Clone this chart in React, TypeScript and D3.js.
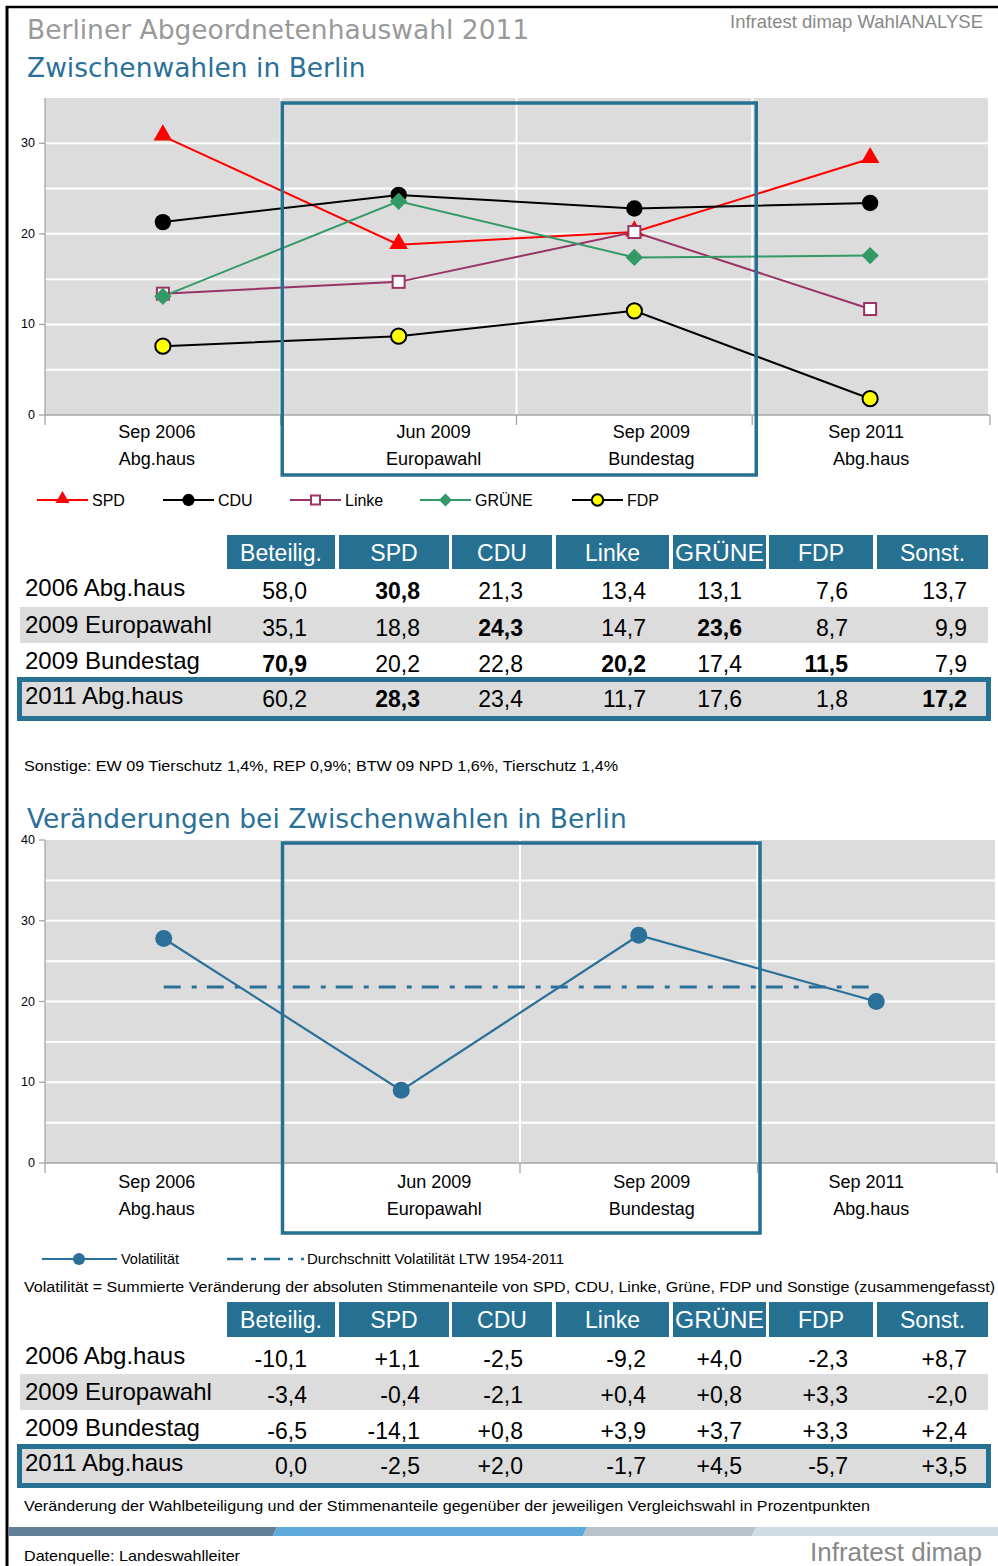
import React from "react";
import * as d3 from "d3";

// ---------- DATA ----------
const categories = ["Sep 2006", "Jun 2009", "Sep 2009", "Sep 2011"];
const categorySub = ["Abg.haus", "Europawahl", "Bundestag", "Abg.haus"];

const spd = [30.8, 18.8, 20.2, 28.3];
const cdu = [21.3, 24.3, 22.8, 23.4];
const linke = [13.4, 14.7, 20.2, 11.7];
const gruene = [13.1, 23.6, 17.4, 17.6];
const fdp = [7.6, 8.7, 11.5, 1.8];

const volatility = [27.8, 9.0, 28.2, 20.0];
const volatilityAverage = 21.8;

const yTicksTop = [0, 10, 20, 30];
const yTicksBottom = [0, 10, 20, 30, 40];

const tableColumns = ["Beteilig.", "SPD", "CDU", "Linke", "GRÜNE", "FDP", "Sonst."];
const rowLabels = ["2006 Abg.haus", "2009 Europawahl", "2009 Bundestag", "2011 Abg.haus"];

const results2006 = [58.0, 30.8, 21.3, 13.4, 13.1, 7.6, 13.7];
const results2009EU = [35.1, 18.8, 24.3, 14.7, 23.6, 8.7, 9.9];
const results2009BT = [70.9, 20.2, 22.8, 20.2, 17.4, 11.5, 7.9];
const results2011 = [60.2, 28.3, 23.4, 11.7, 17.6, 1.8, 17.2];
const boldCells = [[1], [2, 4], [0, 3, 5], [1, 6]];

const change2006 = [-10.1, 1.1, -2.5, -9.2, 4.0, -2.3, 8.7];
const change2009EU = [-3.4, -0.4, -2.1, 0.4, 0.8, 3.3, -2.0];
const change2009BT = [-6.5, -14.1, 0.8, 3.9, 3.7, 3.3, 2.4];
const change2011 = [0.0, -2.5, 2.0, -1.7, 4.5, -5.7, 3.5];

const noteOthers = "Sonstige: EW 09 Tierschutz 1,4%, REP 0,9%; BTW 09 NPD 1,6%, Tierschutz 1,4%";
const noteVolatility =
  "Volatilität = Summierte Veränderung der absoluten Stimmenanteile von SPD, CDU, Linke, Grüne, FDP und Sonstige (zusammengefasst)";
const noteChange =
  "Veränderung der Wahlbeteiligung und der Stimmenanteile gegenüber der jeweiligen Vergleichswahl in Prozentpunkten";

// ---------- STYLE ----------
const BLUE = "#267092";
const GREY_BG = "#dcdcdc";
const AXIS = "#a6a6a6";
const TITLE_FONT = "'DejaVu Sans', Verdana, sans-serif";
const FONT = "'Liberation Sans', Arial, sans-serif";

const locale = d3.formatLocale({ decimal: ",", thousands: ".", grouping: [3], currency: ["", "€"], minus: "-" });
const fmt = locale.format(".1f");
const fmtSigned = (v: number) => (v === 0 ? fmt(0) : locale.format("+.1f")(v));

const series = [
  { name: "SPD", values: spd, line: "#ff0000", shape: "triangle", fill: "#ff0000", stroke: "none" },
  { name: "CDU", values: cdu, line: "#000000", shape: "circle", fill: "#000000", stroke: "none" },
  { name: "Linke", values: linke, line: "#993366", shape: "square", fill: "#ffffff", stroke: "#993366" },
  { name: "GRÜNE", values: gruene, line: "#339966", shape: "diamond", fill: "#339966", stroke: "none" },
  { name: "FDP", values: fdp, line: "#000000", shape: "circle", fill: "#ffff00", stroke: "#000000" },
];

function Marker({ shape, x, y, fill, stroke, scale = 1 }: any) {
  if (shape === "circle") {
    return <circle cx={x} cy={y} r={(stroke === "none" ? 8.2 : 7.6) * scale} fill={fill} stroke={stroke} strokeWidth={2} />;
  }
  if (shape === "triangle") {
    const p = d3.symbol(d3.symbolTriangle, 150 * scale * scale)();
    return <path d={p!} transform={`translate(${x},${y - 1})`} fill={fill} />;
  }
  if (shape === "square") {
    const s = 12 * scale;
    return <rect x={x - s / 2} y={y - s / 2} width={s} height={s} fill={fill} stroke={stroke} strokeWidth={2} />;
  }
  const p = d3.symbol(d3.symbolSquare, 150 * scale * scale)();
  return <path d={p!} transform={`translate(${x},${y}) rotate(45)`} fill={fill} />;
}

function XAxisLabels({ x, baseY, offsets }: any) {
  return (
    <g fontFamily={FONT} fontSize={18} textAnchor="middle" fill="#000">
      {categories.map((c, i) => (
        <g key={c + i}>
          <text x={x(c)! + x.bandwidth() / 2 + offsets[i]} y={baseY}>{c}</text>
          <text x={x(c)! + x.bandwidth() / 2 + offsets[i] + (i === 3 ? 5 : 0)} y={baseY + 27}>{categorySub[i]}</text>
        </g>
      ))}
    </g>
  );
}

function ChartFrame({ x, y, ticks, gridStep, yMax }: any) {
  const [x0, x1] = x.range();
  const [y0, y1] = y.range();
  const grid = d3.range(gridStep, yMax, gridStep);
  const bounds = categories.slice(1).map((c) => x(c)!);
  return (
    <g>
      <rect x={x0} y={y1} width={x1 - x0} height={y0 - y1} fill={GREY_BG} />
      {grid.map((g: number) => (
        <line key={g} x1={x0} x2={x1} y1={y(g)} y2={y(g)} stroke="#fff" strokeWidth={2} />
      ))}
      {bounds.map((b: number) => (
        <line key={b} x1={b} x2={b} y1={y1} y2={y0} stroke="#fff" strokeWidth={2} />
      ))}
      <line x1={x0} x2={x0} y1={y1} y2={y0 + 10} stroke={AXIS} strokeWidth={1.3} />
      <line x1={x0} x2={x1 + 2} y1={y0} y2={y0} stroke={AXIS} strokeWidth={1.3} />
      {[...bounds, x1 + 2].map((b: number) => (
        <line key={"t" + b} x1={b} x2={b} y1={y0} y2={y0 + 10} stroke={AXIS} strokeWidth={1.3} />
      ))}
      {ticks.map((t: number) => (
        <g key={"yt" + t}>
          <line x1={x0 - 6} x2={x0} y1={y(t)} y2={y(t)} stroke={AXIS} strokeWidth={1.3} />
          <text x={x0 - 10} y={y(t) + 4} textAnchor="end" fontFamily={FONT} fontSize={12.5} fill="#000">
            {t}
          </text>
        </g>
      ))}
    </g>
  );
}

function Table({ top, rows, format, bold, headerH, rowTops }: any) {
  const headerBoxes = [
    [227, 335], [339, 449], [452, 552], [556, 669], [673, 766], [769, 873], [877, 988],
  ];
  const rightEdges = [307, 420, 523, 646, 742, 848, 967];
  return (
    <g fontFamily={FONT}>
      {headerBoxes.map(([a, b], i) => (
        <g key={"h" + i}>
          <rect x={a} y={top} width={b - a} height={headerH} fill={BLUE} />
          <text x={(a + b) / 2} y={top + 26} textAnchor="middle" fill="#fff" fontSize={23}
            textLength={i === 4 ? b - a - 4 : undefined} lengthAdjust="spacingAndGlyphs">
            {tableColumns[i]}
          </text>
        </g>
      ))}
      {rows.map((r: number[], ri: number) => {
        const rt = rowTops[ri];
        return (
          <g key={"r" + ri}>
            {ri === 1 && <rect x={20} y={rt} width={968} height={36} fill={GREY_BG} />}
            {ri === 3 && (
              <rect x={19.5} y={rt + 1.5} width={969} height={39} fill={GREY_BG} stroke={BLUE} strokeWidth={5} />
            )}
            <text x={25} y={rt + 25.5} fontSize={24} fill="#000">{rowLabels[ri]}</text>
            {r.map((v: number, ci: number) => (
              <text key={ci} x={rightEdges[ci]} y={rt + 28.5} textAnchor="end" fontSize={23}
                fontWeight={bold && bold[ri].includes(ci) ? "bold" : "normal"} fill="#000">
                {format(v)}
              </text>
            ))}
          </g>
        );
      })}
    </g>
  );
}

export default function App() {
  const x1 = d3.scaleBand<string>().domain(categories).range([45, 988]);
  const y1 = d3.scaleLinear().domain([0, 35]).range([415, 98]);
  const cx1 = (i: number) => x1(categories[i])! + x1.bandwidth() / 2;
  const line1 = (vals: number[]) =>
    d3.line<number>().x((_, i) => cx1(i)).y((d) => y1(d))(vals)!;

  const x2 = d3.scaleBand<string>().domain(categories).range([45, 995]);
  const y2 = d3.scaleLinear().domain([0, 40]).range([1163, 840]);
  const cx2 = (i: number) => x2(categories[i])! + x2.bandwidth() / 2;
  const line2 = d3.line<number>().x((_, i) => cx2(i)).y((d) => y2(d));

  const legendTop = [37, 163, 290, 420, 572];

  return (
    <svg width={998} height={1566} style={{ position: "absolute", left: 0, top: 0, background: "#fff" }}>
      <line x1={6} x2={998} y1={7} y2={7} stroke="#000" strokeWidth={2.5} />
      <line x1={7} x2={7} y1={6} y2={1566} stroke="#000" strokeWidth={3} />

      <text x={27} y={39} fontFamily={TITLE_FONT} fontSize={26.5} fill="#999">Berliner Abgeordnetenhauswahl 2011</text>
      <text x={27} y={77} fontFamily={TITLE_FONT} fontSize={26.5} fill="#2a7099">Zwischenwahlen in Berlin</text>
      <text x={983} y={28} fontFamily={FONT} fontSize={18.5} fill="#888" textAnchor="end">Infratest dimap WahlANALYSE</text>

      <ChartFrame x={x1} y={y1} ticks={yTicksTop} gridStep={5} yMax={35} />
      {series.map((s) => (
        <path key={s.name} d={line1(s.values)} fill="none" stroke={s.line} strokeWidth={2} />
      ))}
      <rect x={x1(categories[1])! + 1.5} y={103} width={x1(categories[3])! - x1(categories[1])! + 2.5} height={372}
        fill="none" stroke={BLUE} strokeWidth={3.5} />
      {series.map((s) =>
        s.values.map((v, i) => (
          <Marker key={s.name + i} shape={s.shape} x={cx1(i)} y={y1(v)} fill={s.fill} stroke={s.stroke} />
        ))
      )}
      <XAxisLabels x={x1} baseY={438} offsets={[-6, 35, 17, -4]} />

      {series.map((s, i) => (
        <g key={"lg" + s.name}>
          <line x1={legendTop[i]} x2={legendTop[i] + 51} y1={500} y2={500} stroke={s.line} strokeWidth={2} />
          <Marker shape={s.shape} x={legendTop[i] + 25.5} y={500} fill={s.fill} stroke={s.stroke} scale={0.75} />
          <text x={legendTop[i] + 55} y={506} fontFamily={FONT} fontSize={16} fill="#000">{s.name}</text>
        </g>
      ))}

      <Table top={535} headerH={34} rowTops={[570, 607, 643, 678]}
        rows={[results2006, results2009EU, results2009BT, results2011]} format={fmt} bold={boldCells} />
      <text x={24} y={771} fontFamily={FONT} fontSize={15} fill="#000" textLength={594} lengthAdjust="spacingAndGlyphs">{noteOthers}</text>

      <text x={27} y={828} fontFamily={TITLE_FONT} fontSize={26.5} fill="#2a7099">Veränderungen bei Zwischenwahlen in Berlin</text>
      <ChartFrame x={x2} y={y2} ticks={yTicksBottom} gridStep={5} yMax={40} />
      <line x1={cx2(0)} x2={cx2(3)} y1={y2(volatilityAverage)} y2={y2(volatilityAverage)} stroke="#2a7099"
        strokeWidth={3} strokeDasharray="17,11,5,10" />
      <path d={line2(volatility)!} fill="none" stroke="#2a7099" strokeWidth={2.2} />
      {volatility.map((v, i) => (
        <circle key={"v" + i} cx={cx2(i)} cy={y2(v)} r={8.5} fill="#2a7099" />
      ))}
      <rect x={x2(categories[1])!} y={843} width={x2(categories[3])! - x2(categories[1])! + 2.5} height={390}
        fill="none" stroke={BLUE} strokeWidth={3.5} />
      <XAxisLabels x={x2} baseY={1188} offsets={[-7, 33, 13, -10]} />

      <line x1={42} x2={117} y1={1259} y2={1259} stroke="#2a7099" strokeWidth={2.2} />
      <circle cx={79} cy={1259} r={6} fill="#2a7099" />
      <text x={121} y={1264} fontFamily={FONT} fontSize={14.5} fill="#000">Volatilität</text>
      <line x1={227} x2={304} y1={1259} y2={1259} stroke="#2a7099" strokeWidth={2.5} strokeDasharray="16,8,5,8" />
      <text x={307} y={1264} fontFamily={FONT} fontSize={15} fill="#000">Durchschnitt Volatilität LTW 1954-2011</text>
      <text x={24} y={1292} fontFamily={FONT} fontSize={15.5} fill="#000" textLength={971} lengthAdjust="spacingAndGlyphs">{noteVolatility}</text>

      <Table top={1302} headerH={35} rowTops={[1338, 1374, 1410, 1445]}
        rows={[change2006, change2009EU, change2009BT, change2011]} format={fmtSigned} bold={null} />
      <text x={24} y={1511} fontFamily={FONT} fontSize={15} fill="#000" textLength={846} lengthAdjust="spacingAndGlyphs">{noteChange}</text>

      <polygon points="8,1527 277,1527 273,1536 8,1536" fill="#637f98" />
      <polygon points="277,1527 587,1527 583,1536 273,1536" fill="#5eaadc" />
      <polygon points="587,1527 756,1527 752,1536 583,1536" fill="#b9c3cb" />
      <polygon points="756,1527 998,1527 998,1536 752,1536" fill="#cfdce4" />
      <text x={24} y={1561} fontFamily={FONT} fontSize={15} fill="#000" textLength={216} lengthAdjust="spacingAndGlyphs">Datenquelle: Landeswahlleiter</text>
      <text x={982} y={1561} fontFamily={FONT} fontSize={26} fill="#888" textAnchor="end">Infratest dimap</text>
    </svg>
  );
}
